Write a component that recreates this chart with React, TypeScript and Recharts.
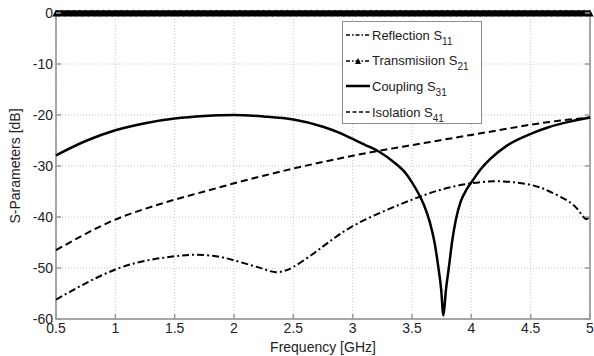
import React from 'react';
import { LineChart, Line, XAxis, YAxis, CartesianGrid, ReferenceArea, Label } from 'recharts';

// Reflection S11 (dash-dot)
const reflFreq = [0.5, 0.75, 1.0, 1.25, 1.5, 1.67, 1.85, 2.0, 2.15, 2.25, 2.34, 2.42, 2.5, 2.65, 2.8, 3.0, 3.25, 3.5, 3.75, 4.0, 4.25, 4.5, 4.65, 4.81, 4.9, 4.96, 5.0];
const reflVals = [-56.2, -53, -50.3, -48.6, -47.7, -47.4, -47.7, -48.5, -49.5, -50.2, -50.8, -50.6, -49.8, -47.5, -44.9, -41.8, -39, -36.6, -34.6, -33.4, -33, -33.7, -34.9, -36.8, -38.6, -40.3, -39.8];

// Transmission S21 (markers along 0 dB)
const txFreq = [
  0.5, 0.55, 0.6, 0.65, 0.7, 0.75, 0.8, 0.85, 0.9, 0.95, 1.0, 1.05, 1.1, 1.15, 1.2, 1.25, 1.3, 1.35, 1.4, 1.45,
  1.5, 1.55, 1.6, 1.65, 1.7, 1.75, 1.8, 1.85, 1.9, 1.95, 2.0, 2.05, 2.1, 2.15, 2.2, 2.25, 2.3, 2.35, 2.4, 2.45,
  2.5, 2.55, 2.6, 2.65, 2.7, 2.75, 2.8, 2.85, 2.9, 2.95, 3.0, 3.05, 3.1, 3.15, 3.2, 3.25, 3.3, 3.35, 3.4, 3.45,
  3.5, 3.55, 3.6, 3.65, 3.7, 3.75, 3.8, 3.85, 3.9, 3.95, 4.0, 4.05, 4.1, 4.15, 4.2, 4.25, 4.3, 4.35, 4.4, 4.45,
  4.5, 4.55, 4.6, 4.65, 4.7, 4.75, 4.8, 4.85, 4.9, 4.95, 5.0,
];
const txVals = [
  0, 0, 0, 0, 0, 0, 0, 0, 0, 0, 0, 0, 0, 0, 0, 0, 0, 0, 0, 0,
  0, 0, 0, 0, 0, 0, 0, 0, 0, 0, 0, 0, 0, 0, 0, 0, 0, 0, 0, 0,
  0, 0, 0, 0, 0, 0, 0, 0, 0, 0, 0, 0, 0, 0, 0, 0, 0, 0, 0, 0,
  0, 0, 0, 0, 0, 0, 0, 0, 0, 0, 0, 0, 0, 0, 0, 0, 0, 0, 0, 0,
  0, 0, 0, 0, 0, 0, 0, 0, 0, 0, 0,
];

// Coupling S31 (solid)
const cplFreq = [0.5, 0.75, 1.0, 1.25, 1.5, 1.75, 2.0, 2.25, 2.5, 2.75, 2.9, 3.0, 3.1, 3.23, 3.35, 3.45, 3.5, 3.55, 3.6, 3.65, 3.69, 3.72, 3.745, 3.765, 3.785, 3.81, 3.84, 3.87, 3.91, 3.96, 4.01, 4.08, 4.16, 4.3, 4.5, 4.65, 4.83, 5.0];
const cplVals = [-27.9, -25.1, -23.0, -21.6, -20.7, -20.2, -20, -20.3, -20.9, -22.3, -23.6, -24.7, -25.8, -27.3, -29.3, -31.5, -33.2, -35.2, -37.6, -41, -45, -49.5, -54, -59.3, -54.5, -50, -44.5, -40.5, -37, -34.6, -32.9, -30.6, -28.6, -26, -23.7, -22.4, -21.3, -20.5];

// Isolation S41 (dashed)
const isoFreq = [0.5, 0.75, 1.0, 1.25, 1.5, 1.75, 2.0, 2.25, 2.5, 2.75, 3.0, 3.25, 3.5, 3.75, 4.0, 4.25, 4.5, 4.75, 5.0];
const isoVals = [-46.5, -43.3, -40.5, -38.4, -36.6, -35.0, -33.4, -31.9, -30.5, -29.2, -28.0, -26.9, -25.9, -24.9, -23.9, -22.9, -21.9, -21.1, -20.5];

const xTicks = [0.5, 1, 1.5, 2, 2.5, 3, 3.5, 4, 4.5, 5];
const yTicks = [-60, -50, -40, -30, -20, -10, 0];

const toSeries = (fs: number[], vs: number[]) => fs.map((f, i) => ({ f, v: vs[i] }));

const W = 594;
const H = 356;
const PLOT_LEFT = 56;
const PLOT_RIGHT = 590;
const PLOT_TOP = 13;
const PLOT_BOTTOM = 319;
const FONT = '"Liberation Sans", Arial, sans-serif';

const YTick = (props: any) => {
  const { x, y, payload } = props;
  return (
    <g>
      <line x1={PLOT_LEFT} x2={PLOT_LEFT + 5} y1={y} y2={y} stroke="#999" strokeWidth={1.5} />
      <line x1={PLOT_RIGHT - 5} x2={PLOT_RIGHT} y1={y} y2={y} stroke="#999" strokeWidth={1.5} />
      <text x={x} y={y} textAnchor="end" dominantBaseline="central" fontSize={14} fill="#222" fontFamily={FONT}>
        {payload.value}
      </text>
    </g>
  );
};

const XTick = (props: any) => {
  const { x, y, payload } = props;
  return (
    <g>
      <line x1={x} x2={x} y1={PLOT_BOTTOM - 5} y2={PLOT_BOTTOM} stroke="#999" strokeWidth={1.5} />
      <text x={x} y={y} dy="0.71em" textAnchor="middle" fontSize={14} fill="#222" fontFamily={FONT}>
        {payload.value}
      </text>
    </g>
  );
};

const Triangle = (props: any) => {
  const { cx, cy, index } = props;
  if (cx == null || cy == null) return <g key={`t-${index}`} />;
  return <path key={`t-${index}`} d={`M${cx - 3.6},${cy + 3.5} L${cx + 3.6},${cy + 3.5} L${cx},${cy - 3.5} Z`} fill="#000" />;
};

const legendRows = [
  { name: 'Reflection S', sub: '11', dash: '4 2 1.5 2', width: 1.5, marker: false },
  { name: 'Transmisiion S', sub: '21', dash: '4 2 1.5 2', width: 1.5, marker: true },
  { name: 'Coupling S', sub: '31', dash: undefined, width: 2.5, marker: false },
  { name: 'Isolation S', sub: '41', dash: '4 2.5', width: 1.5, marker: false },
];

function LegendBox() {
  return (
    <div
      style={{
        position: 'absolute',
        left: 342,
        top: 21,
        width: 140,
        height: 103,
        boxSizing: 'border-box',
        border: '1px solid #8c8c8c',
        background: '#fff',
        fontFamily: FONT,
        fontSize: 13,
        color: '#222',
      }}
    >
      {legendRows.map((r, i) => (
        <div
          key={r.name}
          style={{ position: 'absolute', left: 3, top: 3 + i * 25.7, height: 20, display: 'flex', alignItems: 'center', whiteSpace: 'nowrap' }}
        >
          <svg width={24} height={10} style={{ marginRight: 2 }}>
            <line x1={0} x2={24} y1={5} y2={5} stroke="#000" strokeWidth={r.width} strokeDasharray={r.dash} />
            {r.marker && <path d="M9,8 L15,8 L12,2 Z" fill="#000" />}
          </svg>
          <span>
            {r.name}
            <sub style={{ fontSize: 10, verticalAlign: 'baseline', position: 'relative', top: 5 }}>{r.sub}</sub>
          </span>
        </div>
      ))}
    </div>
  );
}

export default function App() {
  return (
    <div style={{ position: 'absolute', left: 0, top: 0, width: W, height: H, background: '#fff' }}>
      <LineChart width={W} height={H} margin={{ top: PLOT_TOP, right: W - PLOT_RIGHT, bottom: 0, left: 0 }}>
        <CartesianGrid stroke="#c4c4c4" strokeDasharray="1 2" />
        <XAxis
          dataKey="f"
          type="number"
          domain={[0.5, 5]}
          ticks={xTicks}
          height={H - PLOT_BOTTOM}
          tickSize={0}
          tickMargin={4}
          tickLine={false}
          axisLine={false}
          tick={<XTick />}
          interval={0}
        >
          <Label value="Frequency [GHz]" position="insideBottom" offset={4} style={{ fontSize: 14, fill: '#222', fontFamily: FONT }} />
        </XAxis>
        <YAxis
          type="number"
          domain={[-60, 0]}
          ticks={yTicks}
          width={PLOT_LEFT}
          tickSize={0}
          tickMargin={3}
          tickLine={false}
          axisLine={false}
          tick={<YTick />}
          interval={0}
        >
          <Label value="S-Parameters [dB]" angle={-90} position="insideLeft" offset={15} style={{ fontSize: 14, fill: '#222', fontFamily: FONT, textAnchor: 'middle' }} />
        </YAxis>
        <ReferenceArea x1={0.5} x2={5} y1={-60} y2={0} fill="none" stroke="#8c8c8c" strokeWidth={1.5} />
        <Line
          data={toSeries(reflFreq, reflVals)}
          dataKey="v"
          type="natural"
          stroke="#000"
          strokeWidth={2}
          strokeDasharray="7 3 2 3"
          dot={false}
          isAnimationActive={false}
        />
        <Line
          data={toSeries(isoFreq, isoVals)}
          dataKey="v"
          type="natural"
          stroke="#000"
          strokeWidth={2}
          strokeDasharray="7 4"
          dot={false}
          isAnimationActive={false}
        />
        <Line
          data={toSeries(cplFreq, cplVals)}
          dataKey="v"
          type="monotone"
          stroke="#000"
          strokeWidth={2.5}
          dot={false}
          isAnimationActive={false}
        />
        <Line
          data={toSeries(txFreq, txVals)}
          dataKey="v"
          type="linear"
          stroke="#000"
          strokeWidth={5.5}
          dot={Triangle}
          isAnimationActive={false}
        />
      </LineChart>
      <LegendBox />
    </div>
  );
}
